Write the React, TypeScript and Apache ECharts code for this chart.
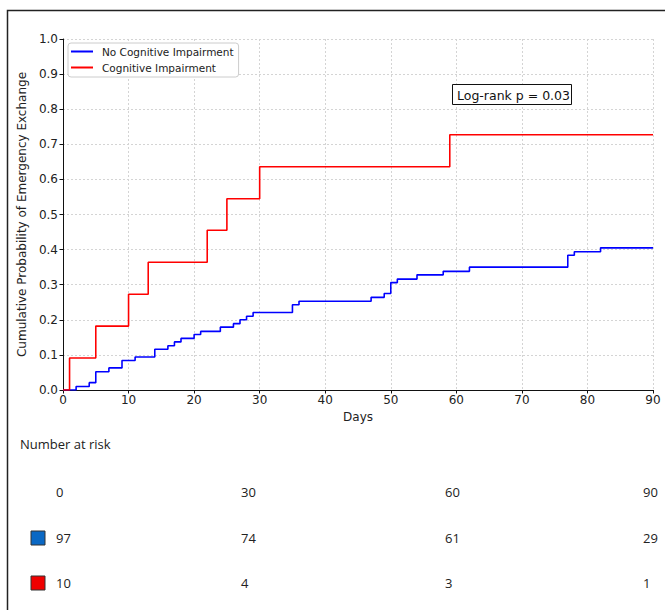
import React, { useEffect, useRef } from "react";
import * as echarts from "echarts";

const blueDays = [0, 2, 4, 5, 7, 9, 11, 14, 16, 17, 18, 20, 21, 24, 26, 27, 28, 29, 35, 36, 47, 49, 50, 51, 54, 58, 62, 77, 78, 82, 90];
const blueProb = [0, 0.010, 0.021, 0.052, 0.063, 0.084, 0.094, 0.116, 0.126, 0.137, 0.147, 0.158, 0.167, 0.179, 0.189, 0.200, 0.210, 0.221, 0.243, 0.253, 0.264, 0.275, 0.306, 0.316, 0.328, 0.338, 0.350, 0.384, 0.394, 0.405, 0.405];

const redDays = [0, 1, 5, 10, 13, 22, 25, 30, 59, 90];
const redProb = [0, 0.091, 0.182, 0.273, 0.364, 0.455, 0.545, 0.636, 0.727, 0.727];

const seriesNames = ["No Cognitive Impairment", "Cognitive Impairment"];
const riskTimes = ["0", "30", "60", "90"];
const riskNoCI = [97, 74, 61, 29];
const riskCI = [10, 4, 3, 1];
const pValueText = "Log-rank p = 0.03";

export default function App() {
  const ref = useRef<HTMLDivElement>(null);

  useEffect(() => {
    if (!ref.current) return;
    const chart = echarts.init(ref.current, null, { renderer: "svg" });

    const colX = [56, 241, 445, 643];
    const rowY = [492, 538, 583];
    const riskFont = '13px "Open Sans", "Noto Sans", sans-serif';
    const graphics: any[] = [
      {
        type: "rect",
        z: 0,
        shape: { x: 7.5, y: 10.5, width: 700, height: 700 },
        style: { fill: "none", stroke: "#222", lineWidth: 1.5 },
        silent: true,
      },
      {
        type: "rect",
        z: 10,
        shape: { x: 452.5, y: 84.5, width: 119, height: 20 },
        style: { fill: "#fff", stroke: "#111", lineWidth: 1 },
      },
      {
        type: "text",
        z: 11,
        x: 457,
        y: 95,
        style: {
          text: pValueText,
          fill: "#111",
          font: '12.5px "DejaVu Sans", sans-serif',
          textVerticalAlign: "middle",
          verticalAlign: "middle",
        },
      },
      {
        type: "text",
        x: 20,
        y: 444,
        style: {
          text: "Number at risk",
          fill: "#222",
          font: riskFont,
          verticalAlign: "middle",
        },
      },
    ];
    riskTimes.forEach((t, i) => {
      graphics.push({
        type: "text",
        x: colX[i],
        y: rowY[0],
        style: { text: t, fill: "#222", font: riskFont, verticalAlign: "middle" },
      });
    });
    riskNoCI.forEach((v, i) => {
      graphics.push({
        type: "text",
        x: colX[i],
        y: rowY[1],
        style: { text: String(v), fill: "#222", font: riskFont, verticalAlign: "middle" },
      });
    });
    riskCI.forEach((v, i) => {
      graphics.push({
        type: "text",
        x: colX[i],
        y: rowY[2],
        style: { text: String(v), fill: "#222", font: riskFont, verticalAlign: "middle" },
      });
    });
    graphics.push({
      type: "rect",
      shape: { x: 31, y: rowY[1] - 7, width: 14, height: 14 },
      style: { fill: "#0a68c4", stroke: "#333", lineWidth: 1 },
    });
    graphics.push({
      type: "rect",
      shape: { x: 31, y: rowY[2] - 7, width: 14, height: 14 },
      style: { fill: "#f00000", stroke: "#333", lineWidth: 1 },
    });

    const axisLabelStyle = {
      color: "#222",
      fontSize: 12,
      fontFamily: '"DejaVu Sans", sans-serif',
    };

    chart.setOption({
      animation: false,
      backgroundColor: "#fff",
      grid: { left: 63, top: 39, width: 590, height: 351, containLabel: false },
      legend: {
        data: seriesNames,
        orient: "vertical",
        left: 68,
        top: 43,
        itemWidth: 22,
        itemHeight: 2,
        itemGap: 3,
        icon: "rect",
        padding: [2, 5, 3, 3],
        backgroundColor: "#fff",
        borderColor: "#ccc",
        borderWidth: 1,
        borderRadius: 3,
        textStyle: {
          fontSize: 10.5,
          lineHeight: 13,
          color: "#222",
          fontFamily: '"DejaVu Sans", sans-serif',
          padding: [0, 0, 0, 4],
        },
      },
      xAxis: {
        type: "value",
        min: 0,
        max: 90,
        interval: 10,
        name: "Days",
        nameLocation: "middle",
        nameGap: 19,
        nameTextStyle: axisLabelStyle,
        axisLine: { show: true, onZero: false, lineStyle: { color: "#111", width: 1 } },
        axisTick: { show: true, inside: false, length: 3.5, lineStyle: { color: "#111" } },
        axisLabel: { ...axisLabelStyle, margin: 4 },
        splitLine: { show: true, lineStyle: { color: "#d4d4d4", type: [2, 2], width: 1 } },
      },
      yAxis: {
        type: "value",
        min: 0,
        max: 1,
        interval: 0.1,
        name: "Cumulative Probability of Emergency Exchange",
        nameLocation: "middle",
        nameGap: 35,
        nameTextStyle: axisLabelStyle,
        axisLine: { show: true, onZero: false, lineStyle: { color: "#111", width: 1 } },
        axisTick: { show: true, inside: false, length: 3.5, lineStyle: { color: "#111" } },
        axisLabel: {
          ...axisLabelStyle,
          margin: 5,
          formatter: (v: number) => v.toFixed(1),
        },
        splitLine: { show: true, lineStyle: { color: "#d4d4d4", type: [2, 2], width: 1 } },
      },
      series: [
        {
          name: seriesNames[0],
          type: "line",
          step: "end",
          showSymbol: false,
          symbol: "none",
          color: "#0000ff",
          lineStyle: { color: "#0000ff", width: 1.6 },
          data: blueDays.map((d, i) => [d, blueProb[i]]),
          z: 3,
        },
        {
          name: seriesNames[1],
          type: "line",
          step: "end",
          showSymbol: false,
          symbol: "none",
          color: "#ff0000",
          lineStyle: { color: "#ff0000", width: 1.6 },
          data: redDays.map((d, i) => [d, redProb[i]]),
          z: 4,
        },
      ],
      graphic: graphics,
    });

    return () => chart.dispose();
  }, []);

  return (
    <div
      ref={ref}
      style={{ position: "absolute", left: 0, top: 0, width: 665, height: 610, background: "#fff" }}
    />
  );
}
